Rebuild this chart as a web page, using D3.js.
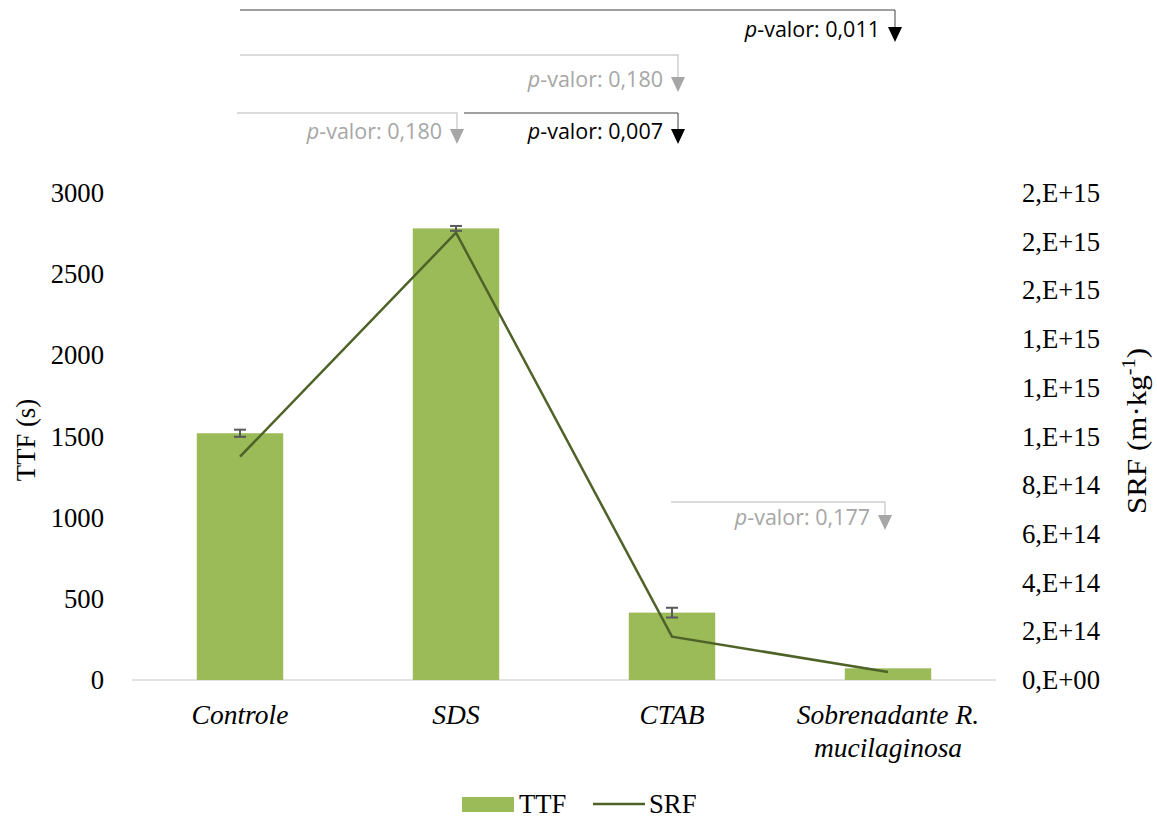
<!DOCTYPE html>
<html>
<head>
<meta charset="utf-8">
<script src="https://cdn.jsdelivr.net/npm/d3@7"></script>
<style>
  html, body { margin: 0; padding: 0; background: #ffffff; }
  svg { display: block; }
</style>
</head>
<body>
<svg id="chart" width="1157" height="818"></svg>
<script>
// ---------------- DATA ----------------
const categories = ["Controle", "SDS", "CTAB", "Sobrenadante R. mucilaginosa"];
const categoryLines = [["Controle"], ["SDS"], ["CTAB"], ["Sobrenadante R.", "mucilaginosa"]];
const ttfValues = [1520, 2782, 415, 72];        // TTF (s)
const ttfErrors = [22, 15, 30, 0];               // error bars (s)
const srfValues = [9.17e14, 1.837e15, 1.78e14, 3.3e13]; // SRF (m·kg-1)
const leftTicks = [0, 500, 1000, 1500, 2000, 2500, 3000];
const rightTickValues = [0, 2e14, 4e14, 6e14, 8e14, 1e15, 1.2e15, 1.4e15, 1.6e15, 1.8e15, 2e15];
const rightTickLabels = ["0,E+00", "2,E+14", "4,E+14", "6,E+14", "8,E+14", "1,E+15", "1,E+15", "1,E+15", "2,E+15", "2,E+15", "2,E+15"];
const compFrom = ["Controle", "Controle", "Controle", "SDS", "CTAB"];
const compTo = ["Sobrenadante R. mucilaginosa", "CTAB", "SDS", "CTAB", "Sobrenadante R. mucilaginosa"];
const compP = ["0,011", "0,180", "0,180", "0,007", "0,177"];
const compSignificant = [true, false, false, true, false];

// ---------------- LAYOUT ----------------
const svg = d3.select("#chart");
const x0 = 132, x1 = 996, yBase = 680, yTop = 193;
const serif = "'Liberation Serif', 'Times New Roman', serif";
const sans = "'Open Sans', 'Noto Sans', sans-serif";
const axisFont = 26.7;

const x = d3.scaleBand().domain(categories).range([x0, x1]).paddingInner(0.6).paddingOuter(0.3);
const y = d3.scaleLinear().domain([0, 3000]).range([yBase, yTop]);
const y2 = d3.scaleLinear().domain([0, 2e15]).range([yBase, yTop]);
const cx = c => x(c) + x.bandwidth() / 2;

const barColor = "#9bbb59";
const lineColor = "#4f6228";

// baseline
svg.append("line")
  .attr("x1", x0).attr("x2", x1).attr("y1", yBase).attr("y2", yBase)
  .attr("stroke", "#d9d9d9").attr("stroke-width", 1.5);

// bars
svg.append("g").selectAll("rect").data(categories).join("rect")
  .attr("x", d => x(d))
  .attr("width", x.bandwidth())
  .attr("y", (d, i) => y(ttfValues[i]))
  .attr("height", (d, i) => yBase - y(ttfValues[i]))
  .attr("fill", barColor);

// error bars
const eb = svg.append("g").attr("stroke", "#595959").attr("stroke-width", 2);
categories.forEach((c, i) => {
  if (ttfErrors[i] <= 0) return;
  const xc = cx(c), yl = y(ttfValues[i] - ttfErrors[i]), yh = y(ttfValues[i] + ttfErrors[i]);
  eb.append("line").attr("x1", xc).attr("x2", xc).attr("y1", yl).attr("y2", yh);
  eb.append("line").attr("x1", xc - 6).attr("x2", xc + 6).attr("y1", yl).attr("y2", yl);
  eb.append("line").attr("x1", xc - 6).attr("x2", xc + 6).attr("y1", yh).attr("y2", yh);
});

// SRF line
const line = d3.line().x((d, i) => cx(categories[i])).y(d => y2(d));
svg.append("path").datum(srfValues)
  .attr("d", line)
  .attr("fill", "none")
  .attr("stroke", lineColor)
  .attr("stroke-width", 2.5);

// left axis
const gL = svg.append("g").attr("transform", `translate(${x0},0)`)
  .call(d3.axisLeft(y).tickValues(leftTicks).tickSize(0).tickPadding(28).tickFormat(d3.format("d")));
gL.select(".domain").remove();
gL.selectAll("text").attr("font-family", serif).attr("font-size", axisFont).attr("fill", "#000");

// right axis
const gR = svg.append("g").attr("transform", `translate(${x1},0)`)
  .call(d3.axisRight(y2).tickValues(rightTickValues).tickSize(0).tickPadding(26)
    .tickFormat((d, i) => rightTickLabels[i]));
gR.select(".domain").remove();
gR.selectAll("text").attr("font-family", serif).attr("font-size", axisFont).attr("fill", "#000");

// category labels
const gC = svg.append("g");
categories.forEach((c, i) => {
  const t = gC.append("text")
    .attr("x", cx(c)).attr("y", 724)
    .attr("text-anchor", "middle")
    .attr("font-family", serif).attr("font-size", 27.5).attr("font-style", "italic");
  categoryLines[i].forEach((ln, j) => {
    t.append("tspan").attr("x", cx(c)).attr("dy", j === 0 ? 0 : 33).text(ln);
  });
});

// axis titles
svg.append("text")
  .attr("transform", `translate(35,440) rotate(-90)`)
  .attr("text-anchor", "middle")
  .attr("font-family", serif).attr("font-size", axisFont)
  .text("TTF (s)");

const rt = svg.append("text")
  .attr("transform", `translate(1146,431) rotate(-90) scale(1.13,1)`)
  .attr("text-anchor", "middle")
  .attr("font-family", serif).attr("font-size", 27.5);
rt.append("tspan").text("SRF (m·kg");
rt.append("tspan").attr("font-size", 18).attr("dy", -11).text("-1");
rt.append("tspan").attr("dy", 11).text(")");

// significance brackets (layout constants)
const levelY = [10, 55, 113, 113, 502];
const tipY = [42, 92, 144, 144, 530];
const startOff = [0, 0, -3, 8, -1];
const endOff = [7, 6, 1, 6, -3];
const gA = svg.append("g");
compFrom.forEach((f, i) => {
  const sig = compSignificant[i];
  const lineCol = sig ? "#404040" : "#d0d0d0";
  const headCol = sig ? "#000000" : "#a6a6a6";
  const xs = cx(f) + startOff[i];
  const xe = cx(compTo[i]) + endOff[i];
  const ly = levelY[i], ty = tipY[i];
  gA.append("path")
    .attr("d", `M${xs},${ly}H${xe}V${ty - 14}`)
    .attr("fill", "none").attr("stroke", lineCol).attr("stroke-width", sig ? 1 : 1.5);
  gA.append("path")
    .attr("d", `M${xe - 7},${ty - 15}L${xe + 7},${ty - 15}L${xe},${ty}Z`)
    .attr("fill", headCol);
  const t = gA.append("text")
    .attr("x", xe - 15).attr("y", ty - 5)
    .attr("text-anchor", "end")
    .attr("font-family", sans).attr("font-size", 21.5)
    .attr("fill", headCol);
  t.append("tspan").attr("font-style", "italic").text("p");
  t.append("tspan").text("-valor: " + compP[i]);
});

// legend
const gLeg = svg.append("g");
gLeg.append("rect").attr("x", 462).attr("y", 797).attr("width", 52).attr("height", 15).attr("fill", barColor);
gLeg.append("text").attr("x", 519).attr("y", 813)
  .attr("font-family", serif).attr("font-size", axisFont).text("TTF");
gLeg.append("line").attr("x1", 593).attr("x2", 645).attr("y1", 804).attr("y2", 804)
  .attr("stroke", lineColor).attr("stroke-width", 2.5);
gLeg.append("text").attr("x", 649).attr("y", 813)
  .attr("font-family", serif).attr("font-size", axisFont).text("SRF");
</script>
</body>
</html>
